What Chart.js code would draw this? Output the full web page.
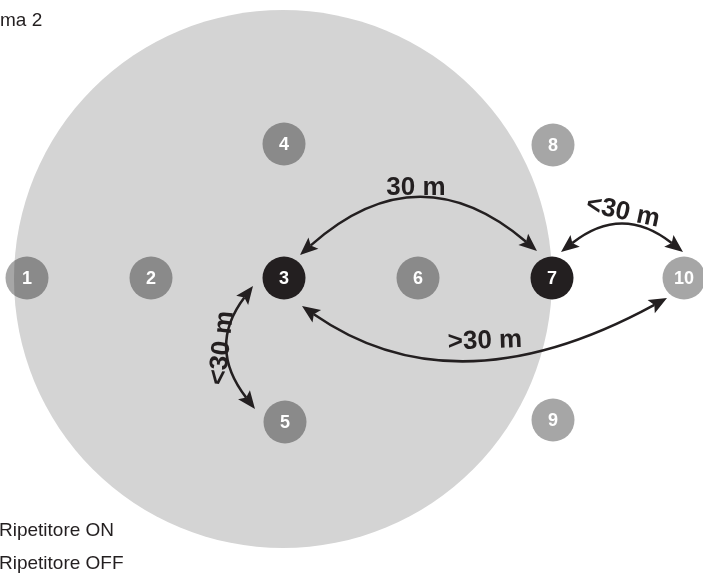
<!DOCTYPE html>
<html>
<head>
  <meta charset="UTF-8">
  <title>Ripetitore ON / OFF</title>
  <script src="https://cdn.jsdelivr.net/npm/chart.js"></script>
  <style>
    body { margin: 0; background: #fff; }
    #wrap { position: relative; width: 703px; height: 573px; }
  </style>
</head>
<body>
  <div id="wrap"><canvas id="chart"></canvas></div>
  <script>
    // nodes
    const nodeLabels = ["1", "2", "3", "4", "5", "6", "7", "8", "9", "10"];
    const nodeX = [27, 151, 284, 284, 285, 418, 552, 553, 553, 684];
    const nodeY = [278, 278, 278, 144, 422, 278, 278, 145, 420, 278];
    const nodeOn = [false, false, true, false, false, false, true, false, false, false];

    // coverage area of repeater 3
    const areaX = [283];
    const areaY = [279];

    // distance arrows: start tip, end tip, curve control point
    const arrowLabels = ["30 m", "<30 m", ">30 m", "<30 m"];
    const arrowStart = [[300, 255], [561, 252], [302, 306], [253, 286]];
    const arrowEnd = [[537, 251], [683, 252], [667, 298], [255, 409]];
    const arrowCtrl = [[418, 150], [622, 204], [456, 413], [207, 347]];
    const labelPos = [[416, 188], [623, 212], [485, 341], [222, 348]];
    const labelAngle = [0, 12, -2, -84];

    const titleText = "ma 2";
    const legendTexts = ["Ripetitore ON", "Ripetitore OFF"];

    const INK = "#231f20";

    const diagramPlugin = {
      id: "diagram",
      afterDatasetsDraw(chart) {
        const ctx = chart.ctx;
        const x = chart.scales.x, y = chart.scales.y;
        const px = p => [x.getPixelForValue(p[0]), y.getPixelForValue(p[1])];
        ctx.save();

        // digits on nodes
        ctx.fillStyle = "#fff";
        ctx.font = "bold 18px 'Liberation Sans', Arial, sans-serif";
        ctx.textAlign = "center";
        ctx.textBaseline = "middle";
        nodeLabels.forEach((t, i) => {
          const [cx, cy] = px([nodeX[i], nodeY[i]]);
          ctx.fillText(t, cx, cy + 1);
        });

        // arrows
        ctx.strokeStyle = INK;
        ctx.fillStyle = INK;
        ctx.lineWidth = 2.5;
        const headLen = 18, headW = 7.5;
        arrowLabels.forEach((lab, i) => {
          const s = px(arrowStart[i]), e = px(arrowEnd[i]), c = px(arrowCtrl[i]);
          const a1 = Math.atan2(s[1] - c[1], s[0] - c[0]);
          const a2 = Math.atan2(e[1] - c[1], e[0] - c[0]);
          const s2 = [s[0] - Math.cos(a1) * headLen * 0.8, s[1] - Math.sin(a1) * headLen * 0.8];
          const e2 = [e[0] - Math.cos(a2) * headLen * 0.8, e[1] - Math.sin(a2) * headLen * 0.8];
          ctx.beginPath();
          ctx.moveTo(s2[0], s2[1]);
          ctx.quadraticCurveTo(c[0], c[1], e2[0], e2[1]);
          ctx.stroke();
          [[s, a1], [e, a2]].forEach(([tip, a]) => {
            ctx.beginPath();
            ctx.moveTo(tip[0], tip[1]);
            ctx.lineTo(tip[0] - Math.cos(a) * headLen + Math.sin(a) * headW,
                       tip[1] - Math.sin(a) * headLen - Math.cos(a) * headW);
            ctx.lineTo(tip[0] - Math.cos(a) * headLen * 0.8, tip[1] - Math.sin(a) * headLen * 0.8);
            ctx.lineTo(tip[0] - Math.cos(a) * headLen - Math.sin(a) * headW,
                       tip[1] - Math.sin(a) * headLen + Math.cos(a) * headW);
            ctx.closePath();
            ctx.fill();
          });

          // distance label
          const [lx, ly] = px(labelPos[i]);
          ctx.save();
          ctx.translate(lx, ly);
          ctx.rotate(labelAngle[i] * Math.PI / 180);
          ctx.font = "bold 26px 'Liberation Sans', Arial, sans-serif";
          ctx.textAlign = "center";
          ctx.textBaseline = "middle";
          ctx.fillText(lab, 0, 0);
          ctx.restore();
        });

        // title and legend texts
        ctx.fillStyle = INK;
        ctx.font = "19px 'Liberation Sans', Arial, sans-serif";
        ctx.textAlign = "left";
        ctx.textBaseline = "alphabetic";
        ctx.fillText(titleText, 0, 26);
        ctx.fillText(legendTexts[0], -1, 536);
        ctx.fillText(legendTexts[1], -1, 569);
        ctx.restore();
      }
    };

    new Chart(document.getElementById("chart").getContext("2d"), {
      type: "bubble",
      data: {
        datasets: [
          {
            label: "nodes",
            order: 0,
            clip: false,
            data: nodeX.map((v, i) => ({ x: v, y: nodeY[i] })),
            radius: 21.5,
            borderWidth: 0,
            backgroundColor: nodeOn.map(on => on ? INK : "rgba(0,0,0,0.35)")
          },
          {
            label: "area",
            order: 1,
            clip: false,
            data: areaX.map((v, i) => ({ x: v, y: areaY[i] })),
            radius: 269,
            borderWidth: 0,
            backgroundColor: "#d4d4d4"
          }
        ]
      },
      options: {
        responsive: true,
        maintainAspectRatio: false,
        animation: false,
        events: [],
        layout: { padding: 0, autoPadding: false },
        plugins: { legend: { display: false }, tooltip: { enabled: false } },
        scales: {
          x: { type: "linear", min: 0, max: 703, display: false },
          y: { type: "linear", min: 0, max: 573, reverse: true, display: false }
        }
      },
      plugins: [diagramPlugin]
    });
  </script>
</body>
</html>
